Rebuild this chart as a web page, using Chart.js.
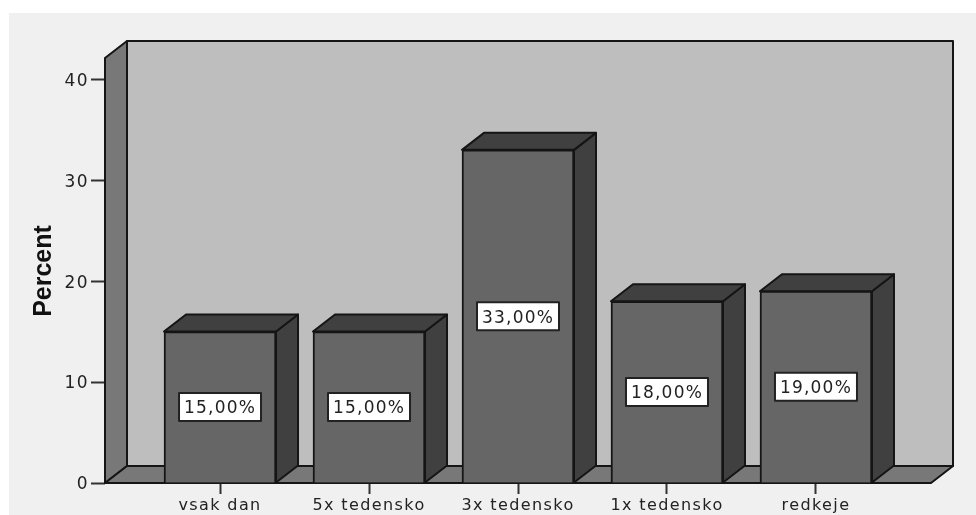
<!DOCTYPE html>
<html>
<head>
<meta charset="utf-8">
<script src="https://cdn.jsdelivr.net/npm/chart.js@4"></script>
<style>
  html, body { margin: 0; padding: 0; background: #fff; overflow: hidden; }
  canvas { display: block; }
</style>
</head>
<body>
<canvas id="barChart" width="976" height="515"></canvas>
<script>
const categories = ['vsak dan', '5x tedensko', '3x tedensko', '1x tedensko', 'redkeje'];
const percents = [15, 15, 33, 18, 19];
const yTicks = [0, 10, 20, 30, 40];
const axisTitle = 'Percent';

const depthX = 22;
const depthY = 17;
const lineColor = '#151515';
const labelFamily = '"DejaVu Sans", sans-serif';

function poly(ctx, fill, points) {
    ctx.beginPath();
    points.forEach(([x, y], i) => i ? ctx.lineTo(x, y) : ctx.moveTo(x, y));
    ctx.closePath();
    ctx.fillStyle = fill;
    ctx.fill();
    ctx.lineWidth = 2;
    ctx.lineJoin = 'round';
    ctx.strokeStyle = lineColor;
    ctx.stroke();
}

// grey panel, back wall, left wall and floor behind the bars
const roomPlugin = {
    id: 'room',
    beforeDraw(chart) {
        const ctx = chart.ctx;
        ctx.fillStyle = '#f0f0f0';
        ctx.fillRect(9, 13, chart.width - 9, chart.height - 13);

        // vertical axis title, drawn here so it keeps normal spacing
        ctx.save();
        ctx.translate(44, 271);
        ctx.rotate(-Math.PI / 2);
        ctx.font = 'bold 25px "Liberation Sans Narrow", "Liberation Sans", sans-serif';
        ctx.fillStyle = '#111';
        ctx.textAlign = 'center';
        ctx.textBaseline = 'middle';
        ctx.fillText(axisTitle, 0, 0);
        ctx.restore();

        ctx.letterSpacing = '1.4px';
    },
    beforeDatasetsDraw(chart) {
        const ctx = chart.ctx;
        const { left, right, top, bottom } = chart.chartArea;
        poly(ctx, '#bebebe', [[left + depthX, top - depthY], [right + depthX, top - depthY], [right + depthX, bottom - depthY], [left + depthX, bottom - depthY]]);
        poly(ctx, '#787878', [[left, top], [left + depthX, top - depthY], [left + depthX, bottom - depthY], [left, bottom]]);
        poly(ctx, '#787878', [[left, bottom], [left + depthX, bottom - depthY], [right + depthX, bottom - depthY], [right, bottom]]);
    }
};

// side and top faces, then the boxed value in the middle of each bar
const barFacesPlugin = {
    id: 'barFaces',
    beforeDatasetDraw(chart) {
        const ctx = chart.ctx;
        chart.getDatasetMeta(0).data.forEach(bar => {
            const l = bar.x - bar.width / 2;
            const r = bar.x + bar.width / 2;
            poly(ctx, '#404040', [[r, bar.y], [r + depthX, bar.y - depthY], [r + depthX, bar.base - depthY], [r, bar.base]]);
            poly(ctx, '#404040', [[l, bar.y], [l + depthX, bar.y - depthY], [r + depthX, bar.y - depthY], [r, bar.y]]);
        });
    },
    afterDatasetsDraw(chart) {
        const ctx = chart.ctx;
        const boxW = 82;
        const boxH = 28;
        ctx.save();
        ctx.font = '17px ' + labelFamily;
        ctx.letterSpacing = '1.2px';
        ctx.textAlign = 'center';
        ctx.textBaseline = 'middle';
        chart.getDatasetMeta(0).data.forEach((bar, i) => {
            const cy = (bar.y + bar.base) / 2;
            ctx.fillStyle = '#fff';
            ctx.fillRect(bar.x - boxW / 2, cy - boxH / 2, boxW, boxH);
            ctx.lineWidth = 2;
            ctx.strokeStyle = '#222';
            ctx.strokeRect(bar.x - boxW / 2, cy - boxH / 2, boxW, boxH);
            ctx.fillStyle = '#222';
            ctx.fillText(percents[i].toFixed(2).replace('.', ',') + '%', bar.x, cy + 2);
        });
        ctx.restore();
    }
};

new Chart(document.getElementById('barChart'), {
    type: 'bar',
    data: {
        datasets: [{
            label: axisTitle,
            data: categories.map((c, i) => ({ x: i, y: percents[i] })),
            backgroundColor: '#666666',
            borderColor: lineColor,
            borderWidth: 2,
            barThickness: 112
        }]
    },
    options: {
        responsive: false,
        animation: false,
        layout: { autoPadding: false, padding: { top: 58, right: 45 } },
        plugins: { legend: { display: false }, tooltip: { enabled: false } },
        scales: {
            x: {
                type: 'linear',
                offset: false,
                min: -0.772,
                max: 4.772,
                afterFit: s => { s.height = 32; },
                afterBuildTicks: s => { s.ticks = categories.map((c, i) => ({ value: i })); },
                border: { display: false },
                grid: { offset: false, drawOnChartArea: false, tickLength: 11, tickWidth: 2, tickColor: '#333' },
                ticks: {
                    autoSkip: false,
                    maxRotation: 0,
                    padding: 2,
                    color: '#222',
                    font: { family: labelFamily, size: 16 },
                    callback: v => categories[v]
                }
            },
            y: {
                min: 0,
                max: 42.1,
                afterFit: s => { s.width = 105; },
                afterBuildTicks: s => { s.ticks = yTicks.map(v => ({ value: v })); },
                border: { display: false },
                grid: { drawOnChartArea: false, tickLength: 14, tickWidth: 2, tickColor: '#333' },
                ticks: {
                    padding: 2,
                    labelOffset: 2,
                    color: '#222',
                    font: { family: labelFamily, size: 17 }
                }
            }
        }
    },
    plugins: [roomPlugin, barFacesPlugin]
});
</script>
</body>
</html>
